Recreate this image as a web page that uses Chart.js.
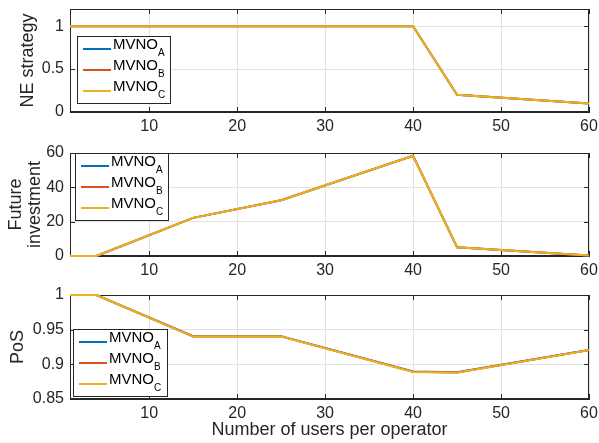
<!DOCTYPE html>
<html>
<head>
<meta charset="utf-8">
<script src="https://cdn.jsdelivr.net/npm/chart.js@4.4.1/dist/chart.umd.min.js"></script>
<style>
  html, body { margin: 0; padding: 0; background: #fff; width: 599px; height: 443px; overflow: hidden; }
  canvas { position: absolute; left: 0; }
</style>
</head>
<body>
<canvas id="neChart" width="599" height="140" style="top:0px"></canvas>
<canvas id="invChart" width="599" height="143" style="top:140px"></canvas>
<canvas id="posChart" width="599" height="160" style="top:283px"></canvas>
<script>
// x values (number of users per operator)
const xUsers = [1, 4, 15, 25, 40, 45, 60];
const xTicks = [10, 20, 30, 40, 50, 60];

const seriesNames = ["MVNO", "MVNO", "MVNO"];
const seriesSubs = ["A", "B", "C"];
const seriesColors = ["#0072BD", "#D95319", "#EDB120"];

// NE strategy
const neA = [1, 1, 1, 1, 1, 0.2, 0.1];
const neB = [1, 1, 1, 1, 1, 0.2, 0.1];
const neC = [1, 1, 1, 1, 1, 0.2, 0.1];
const neTicks = [0, 0.5, 1];

// Future investment
const invA = [0, 0, 22.2, 32.5, 58.4, 5.1, 0.3];
const invB = [0, 0, 22.2, 32.5, 58.4, 5.1, 0.3];
const invC = [0, 0, 22.2, 32.5, 58.4, 5.1, 0.3];
const invTicks = [0, 20, 40, 60];

// PoS
const posA = [1, 1, 0.9405, 0.9405, 0.8897, 0.8887, 0.9207];
const posB = [1, 1, 0.9403, 0.9403, 0.8894, 0.8884, 0.9206];
const posC = [1, 1, 0.9400, 0.9400, 0.8890, 0.8880, 0.9205];
const posTicks = [0.85, 0.9, 0.95, 1];

const FONT = "'Liberation Sans', Arial, Helvetica, sans-serif";
const DARK = "#262626";

// box, inward tick marks (under the lines) and legend (over them), matlab style
const matlabBox = {
  id: "matlabBox",
  beforeDatasetsDraw(chart, args, opts) {
    const { ctx, chartArea: a, scales: { x, y } } = chart;
    ctx.save();
    ctx.strokeStyle = DARK;
    ctx.lineWidth = 1;
    ctx.beginPath();
    xTicks.forEach((v) => {
      const px = Math.round(x.getPixelForValue(v)) + 0.5;
      ctx.moveTo(px, a.bottom);
      ctx.lineTo(px, a.bottom - 5);
      ctx.moveTo(px, a.top);
      ctx.lineTo(px, a.top + 5);
    });
    opts.yTicks.forEach((v) => {
      const py = Math.round(y.getPixelForValue(v)) + 0.5;
      ctx.moveTo(a.left, py);
      ctx.lineTo(a.left + 5, py);
      ctx.moveTo(a.right, py);
      ctx.lineTo(a.right - 5, py);
    });
    ctx.stroke();
    ctx.strokeRect(Math.round(a.left) + 0.5, Math.round(a.top) + 0.5,
      Math.round(a.width) - 1, Math.round(a.height) - 1);
    ctx.restore();
  },
  afterDatasetsDraw(chart, args, opts) {
    const { ctx, chartArea: a } = chart;
    ctx.save();
    const L = opts.legend;
    const bx = Math.round(a.left + L.dx), by = Math.round(a.top + L.dy);
    ctx.fillStyle = "#fff";
    ctx.fillRect(bx, by, L.w, L.h);
    ctx.strokeStyle = DARK;
    ctx.lineWidth = 1;
    ctx.strokeRect(bx + 0.5, by + 0.5, L.w, L.h);
    seriesColors.forEach((col, i) => {
      const ry = by + 13 + i * 21;
      ctx.strokeStyle = col;
      ctx.lineWidth = 2;
      ctx.beginPath();
      ctx.moveTo(bx + 6, ry);
      ctx.lineTo(bx + 34, ry);
      ctx.stroke();
      ctx.fillStyle = "#000";
      ctx.textBaseline = "middle";
      ctx.textAlign = "left";
      ctx.font = "15px " + FONT;
      ctx.fillText(seriesNames[i], bx + 36, ry - 4);
      const w = ctx.measureText(seriesNames[i]).width;
      ctx.font = "10px " + FONT;
      ctx.fillText(seriesSubs[i], bx + 36 + w, ry + 4);
    });
    ctx.restore();
  },
};

const noPad = (s) => {
  s.paddingTop = 0;
  s.paddingBottom = 0;
  s.paddingLeft = 0;
  s.paddingRight = 0;
};

const makeChart = (id, series, yMin, yMax, yTicks, cfg) => {
  const ctx = document.getElementById(id).getContext("2d");
  return new Chart(ctx, {
    type: "line",
    data: {
      labels: xUsers,
      datasets: series.map((vals, i) => ({
        label: seriesNames[i] + seriesSubs[i],
        data: xUsers.map((xv, j) => ({ x: xv, y: vals[j] })),
        borderColor: seriesColors[i],
        backgroundColor: seriesColors[i],
        borderWidth: 2,
        pointRadius: 0,
        tension: 0,
        fill: false,
        clip: false,
        order: series.length - i,
      })),
    },
    options: {
      responsive: false,
      animation: false,
      events: [],
      layout: { padding: { top: cfg.padTop, right: 10, left: 0, bottom: 0 } },
      plugins: {
        legend: { display: false },
        tooltip: { enabled: false },
        matlabBox: { yTicks: yTicks, legend: cfg.legend },
      },
      scales: {
        x: {
          type: "linear",
          min: 1,
          max: 60,
          afterBuildTicks: (s) => { s.ticks = xTicks.map((v) => ({ value: v })); },
          afterFit: (s) => { s.height = cfg.xHeight; noPad(s); },
          grid: { color: "#e2e2e2", drawTicks: false },
          border: { color: DARK },
          ticks: {
            autoSkip: false, maxRotation: 0, padding: 5, color: DARK,
            font: { family: FONT, size: 16 },
            callback: (v) => String(v),
          },
          title: {
            display: !!cfg.xTitle,
            text: cfg.xTitle || "",
            color: DARK,
            font: { family: FONT, size: 18 },
            padding: { top: 0, bottom: 2 },
          },
        },
        y: {
          min: yMin,
          max: yMax,
          afterBuildTicks: (s) => { s.ticks = yTicks.map((v) => ({ value: v })); },
          afterFit: (s) => { s.width = 70; noPad(s); },
          grid: { color: "#e2e2e2", drawTicks: false },
          border: { color: DARK },
          ticks: {
            autoSkip: false, padding: 6, color: DARK,
            font: { family: FONT, size: 16 },
            callback: (v) => String(v),
          },
          title: {
            display: true,
            text: cfg.yTitle,
            color: DARK,
            font: { family: FONT, size: 18, lineHeight: cfg.yLineHeight || 1.2 },
            padding: { top: cfg.yTitlePad, bottom: 0 },
          },
        },
      },
    },
    plugins: [matlabBox],
  });
};

makeChart("neChart", [neA, neB, neC], 0, 1.2, neTicks, {
  padTop: 9, xHeight: 28, yTitle: "NE strategy", yTitlePad: 17,
  legend: { dx: 7, dy: 27, w: 93, h: 67 },
});

makeChart("invChart", [invA, invB, invC], 0, 60, invTicks, {
  padTop: 13, xHeight: 27, yTitle: ["Future", "investment"], yTitlePad: 6.5, yLineHeight: 1.05,
  legend: { dx: 5, dy: 0, w: 93, h: 67 },
});

makeChart("posChart", [posA, posB, posC], 0.85, 1, posTicks, {
  padTop: 12, xHeight: 44, yTitle: "PoS", yTitlePad: 7.5,
  xTitle: "Number of users per operator",
  legend: { dx: 3, dy: 34, w: 94, h: 67 },
});
</script>
</body>
</html>
